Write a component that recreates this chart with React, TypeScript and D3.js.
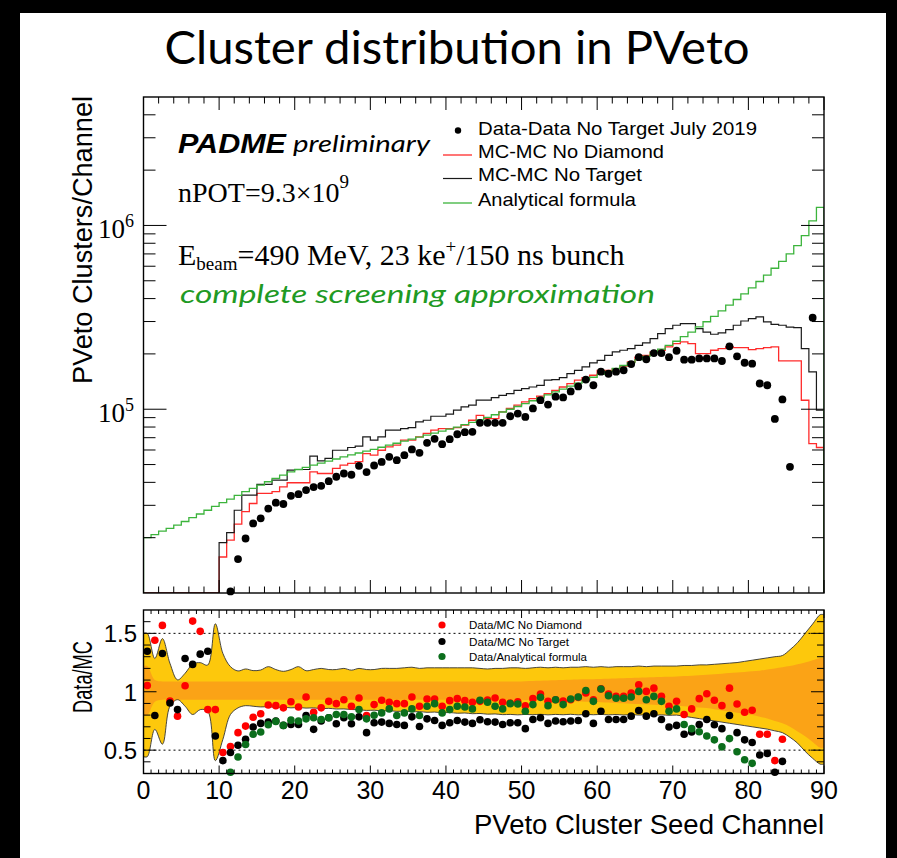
import React from "react";
import * as d3 from "d3";

// PVeto seed channels 0..89
const channels: number[] = d3.range(90);

// Data - Data No Target, July 2019 (clusters per channel; null = below axis range / empty)
const dataCounts: (number | null)[] = [
  null, null, null, null, null, null, null, null, null, null,
  null, 1.02e4, 1.53e4, 1.98e4, 2.39e4, 2.55e4, 2.88e4, 3.10e4, 3.05e4, 3.38e4,
  3.45e4, 3.63e4, 3.77e4, 3.83e4, 4.06e4, 4.29e4, 4.47e4, 4.40e4, 4.92e4, 4.55e4,
  4.94e4, 5.17e4, 5.51e4, 5.28e4, 5.62e4, 6.04e4, 5.79e4, 6.56e4, 6.90e4, 6.45e4,
  6.87e4, 7.31e4, 7.50e4, 7.53e4, 8.43e4, 8.43e4, 8.43e4, 8.43e4, 9.16e4, 9.47e4,
  9.08e4, 1.01e5, 1.12e5, 1.06e5, 1.17e5, 1.16e5, 1.25e5, 1.33e5, 1.45e5, 1.35e5,
  1.60e5, 1.56e5, 1.60e5, 1.63e5, 1.76e5, 1.92e5, 1.87e5, 2.02e5, 2.02e5, 1.92e5,
  2.08e5, 1.86e5, 1.86e5, 1.89e5, 1.89e5, 1.89e5, 1.83e5, 2.20e5, 1.94e5, 1.79e5,
  1.77e5, 1.38e5, 1.35e5, 8.86e4, 1.13e5, 4.86e4, null, null, 3.15e5, null,
];

// MC - MC No Diamond
const mcNoDiamond: number[] = [
  0, 0, 0, 0, 0, 0, 0, 0, 0, 0,
  1.57e4, 1.94e4, 2.37e4, 2.77e4, 3.07e4, 3.48e4, 3.48e4, 3.56e4, 3.78e4, 3.98e4,
  3.98e4, 3.98e4, 4.56e4, 4.47e4, 4.47e4, 4.76e4, 4.97e4, 5.07e4, 5.18e4, 5.74e4,
  5.62e4, 5.98e4, 6.24e4, 6.37e4, 6.79e4, 6.79e4, 7.08e4, 7.38e4, 7.69e4, 7.85e4,
  7.85e4, 7.94e4, 8.19e4, 8.71e4, 9.27e4, 8.89e4, 8.89e4, 9.68e4, 1.009e5, 1.052e5,
  1.096e5, 1.143e5, 1.178e5, 1.216e5, 1.268e5, 1.321e5, 1.377e5, 1.439e5, 1.486e5, 1.531e5,
  1.629e5, 1.629e5, 1.663e5, 1.714e5, 1.807e5, 1.923e5, 1.963e5, 2.051e5, 2.094e5, 2.183e5,
  2.275e5, 2.323e5, 2.275e5, 2.009e5, 2.009e5, 2.094e5, 2.138e5, 2.183e5, 2.163e5, 2.163e5,
  2.109e5, 2.138e5, 2.163e5, 2.183e5, 1.832e5, 1.832e5, 1.832e5, 1.119e5, 6.50e4, 6.19e4,
];

// MC - MC No Target
const mcNoTarget: number[] = [
  0, 0, 0, 0, 0, 0, 0, 0, 0, 0,
  1.88e4, 2.13e4, 2.82e4, 3.41e4, 3.41e4, 3.90e4, 3.90e4, 4.11e4, 4.11e4, 4.66e4,
  4.70e4, 4.70e4, 5.56e4, 5.24e4, 5.40e4, 5.98e4, 5.98e4, 6.19e4, 6.30e4, 7.08e4,
  6.79e4, 7.08e4, 7.69e4, 7.69e4, 7.85e4, 7.94e4, 8.53e4, 8.71e4, 9.16e4, 9.16e4,
  9.40e4, 9.89e4, 1.030e5, 1.052e5, 1.122e5, 1.122e5, 1.156e5, 1.191e5, 1.216e5, 1.268e5,
  1.294e5, 1.321e5, 1.349e5, 1.439e5, 1.449e5, 1.486e5, 1.563e5, 1.629e5, 1.698e5, 1.786e5,
  1.845e5, 1.963e5, 2.051e5, 2.094e5, 2.138e5, 2.228e5, 2.296e5, 2.421e5, 2.576e5, 2.742e5,
  2.864e5, 2.924e5, 2.924e5, 2.742e5, 2.630e5, 2.559e5, 2.600e5, 2.710e5, 2.864e5, 3.020e5,
  3.112e5, 3.177e5, 2.985e5, 2.897e5, 2.864e5, 2.799e5, 2.780e5, 2.138e5, 1.596e5, 9.89e4,
];

// Analytical formula (complete screening approximation)
const analytical: number[] = [
  2.00e4, 2.08e4, 2.17e4, 2.25e4, 2.34e4, 2.45e4, 2.57e4, 2.69e4, 2.82e4, 2.96e4,
  3.10e4, 3.24e4, 3.40e4, 3.56e4, 3.71e4, 3.86e4, 4.03e4, 4.20e4, 4.38e4, 4.56e4,
  4.70e4, 4.83e4, 4.97e4, 5.09e4, 5.22e4, 5.36e4, 5.50e4, 5.64e4, 5.78e4, 5.92e4,
  6.05e4, 6.21e4, 6.37e4, 6.53e4, 6.70e4, 6.87e4, 7.05e4, 7.23e4, 7.41e4, 7.60e4,
  7.80e4, 8.00e4, 8.24e4, 8.49e4, 8.75e4, 9.02e4, 9.33e4, 9.66e4, 1.000e5, 1.035e5,
  1.072e5, 1.112e5, 1.153e5, 1.197e5, 1.242e5, 1.288e5, 1.337e5, 1.387e5, 1.439e5, 1.493e5,
  1.549e5, 1.607e5, 1.667e5, 1.730e5, 1.795e5, 1.862e5, 1.941e5, 2.028e5, 2.123e5, 2.228e5,
  2.344e5, 2.483e5, 2.630e5, 2.805e5, 2.992e5, 3.199e5, 3.428e5, 3.681e5, 3.954e5, 4.246e5,
  4.571e5, 4.955e5, 5.370e5, 5.848e5, 6.383e5, 6.998e5, 7.762e5, 8.810e5, 1.059e6, 1.253e6,
];

// Ratios
const ratioNoDiamond: (number | null)[] = [
  1.054, 1.441, 1.568, 0.92, 0.791, 1.051, 1.605, 1.517, 0.847, 0.847,
  0.480, 0.531, 0.650, 0.706, 0.782, 0.811, 0.887, 0.881, 0.862, 0.915,
  0.870, 0.955, 0.825, 0.862, 0.918, 0.898, 0.932, 0.876, 0.946, 0.797,
  0.890, 0.927, 0.910, 0.898, 0.898, 0.955, 0.876, 0.938, 0.938, 0.876,
  0.924, 0.941, 0.924, 0.910, 0.918, 0.93, 0.946, 0.910, 0.904, 0.915,
  0.88, 0.941, 0.980, 0.918, 0.932, 0.92, 0.932, 0.952, 0.99, 0.932,
  1.025, 0.980, 0.96, 0.960, 0.989, 1.059, 1.003, 1.031, 0.960, 0.876,
  0.918, 0.805, 0.853, 0.941, 0.983, 0.927, 0.881, 1.031, 0.895, 0.825,
  0.842, 0.636, 0.636, 0.410, 0.593, null, null, null, null, null,
];

const ratioNoTarget: (number | null)[] = [
  1.347, 0.797, 1.328, 0.904, 0.847, 1.285, 1.234, 1.322, 1.347, 0.621,
  0.410, 0.480, 0.542, 0.593, 0.698, 0.729, 0.740, 0.749, 0.712, 0.720,
  0.720, 0.797, 0.678, 0.749, 0.777, 0.726, 0.777, 0.726, 0.785, 0.650,
  0.734, 0.740, 0.729, 0.720, 0.712, 0.785, 0.703, 0.768, 0.754, 0.712,
  0.734, 0.754, 0.740, 0.729, 0.76, 0.743, 0.740, 0.720, 0.734, 0.734,
  0.684, 0.763, 0.777, 0.729, 0.749, 0.743, 0.749, 0.754, 0.811, 0.729,
  0.833, 0.763, 0.763, 0.763, 0.791, 0.839, 0.791, 0.811, 0.763, 0.698,
  0.712, 0.636, 0.655, 0.720, 0.763, 0.718, 0.684, 0.797, 0.650, 0.588,
  0.565, 0.458, 0.472, 0.311, 0.404, null, null, null, null, null,
];

const ratioAnalytical: (number | null)[] = [
  null, null, null, null, null, null, null, null, null, null,
  null, 0.311, 0.441, 0.548, 0.636, 0.655, 0.718, 0.746, 0.712, 0.757,
  0.749, 0.768, 0.777, 0.763, 0.777, 0.805, 0.805, 0.785, 0.847, 0.768,
  0.799, 0.819, 0.853, 0.797, 0.819, 0.853, 0.797, 0.876, 0.898, 0.819,
  0.847, 0.876, 0.870, 0.853, 0.927, 0.91, 0.876, 0.853, 0.898, 0.895,
  0.833, 0.890, 0.952, 0.881, 0.932, 0.890, 0.938, 0.955, 1.011, 0.918,
  1.023, 0.966, 0.944, 0.944, 0.955, 1.003, 0.932, 0.960, 0.918, 0.833,
  0.853, 0.720, 0.684, 0.658, 0.621, 0.588, 0.528, 0.599, 0.486, 0.418,
  0.387, null, null, null, null, null, null, null, null, null,
];

// MC uncertainty bands on the ratio (outer / inner)
const bandOuterHi: number[] = [
  1.50, 1.285, 1.455, 1.243, 1.102, 1.158, 1.237, 1.249, 1.229, 1.582,
  1.328, 1.215, 1.178, 1.195, 1.181, 1.186, 1.215, 1.19, 1.175, 1.19,
  1.215, 1.18, 1.19, 1.20, 1.19, 1.19, 1.20, 1.185, 1.20, 1.19,
  1.19, 1.20, 1.20, 1.20, 1.205, 1.21, 1.20, 1.205, 1.205, 1.205,
  1.205, 1.205, 1.205, 1.205, 1.20, 1.195, 1.20, 1.20, 1.205, 1.205,
  1.20, 1.205, 1.21, 1.205, 1.21, 1.205, 1.21, 1.21, 1.215, 1.21,
  1.215, 1.21, 1.215, 1.215, 1.215, 1.22, 1.215, 1.22, 1.22, 1.22,
  1.22, 1.225, 1.225, 1.23, 1.23, 1.235, 1.24, 1.245, 1.25, 1.26,
  1.27, 1.28, 1.29, 1.30, 1.31, 1.36, 1.42, 1.50, 1.58, 1.66,
];
const bandOuterLo: number[] = [
  0.444, 0.678, 0.551, 0.876, 0.932, 0.876, 0.805, 0.847, 0.833, 0.41,
  0.593, 0.805, 0.862, 0.881, 0.876, 0.870, 0.872, 0.866, 0.868, 0.862,
  0.865, 0.86, 0.862, 0.855, 0.858, 0.852, 0.853, 0.848, 0.846, 0.84,
  0.842, 0.836, 0.838, 0.832, 0.834, 0.828, 0.83, 0.824, 0.826, 0.82,
  0.822, 0.816, 0.818, 0.812, 0.814, 0.808, 0.81, 0.804, 0.806, 0.802,
  0.806, 0.803, 0.807, 0.802, 0.806, 0.803, 0.807, 0.802, 0.806, 0.803,
  0.806, 0.802, 0.805, 0.801, 0.804, 0.8, 0.803, 0.799, 0.802, 0.798,
  0.80, 0.79, 0.78, 0.77, 0.76, 0.75, 0.74, 0.73, 0.72, 0.71,
  0.70, 0.69, 0.68, 0.665, 0.65, 0.61, 0.56, 0.49, 0.43, 0.38,
];
const bandInnerHi: number[] = [
  1.22, 1.10, 1.088, 1.088, 1.088, 1.088, 1.088, 1.088, 1.088, 1.088,
  1.088, 1.088, 1.088, 1.088, 1.088, 1.088, 1.088, 1.088, 1.088, 1.088,
  1.088, 1.088, 1.088, 1.088, 1.088, 1.088, 1.088, 1.088, 1.088, 1.088,
  1.088, 1.088, 1.088, 1.088, 1.088, 1.088, 1.088, 1.088, 1.088, 1.088,
  1.088, 1.088, 1.088, 1.088, 1.088, 1.088, 1.088, 1.088, 1.088, 1.088,
  1.09, 1.092, 1.094, 1.096, 1.098, 1.10, 1.102, 1.104, 1.106, 1.108,
  1.11, 1.112, 1.114, 1.116, 1.118, 1.12, 1.122, 1.124, 1.126, 1.128,
  1.13, 1.134, 1.138, 1.142, 1.146, 1.15, 1.155, 1.16, 1.165, 1.17,
  1.175, 1.18, 1.19, 1.20, 1.21, 1.22, 1.235, 1.25, 1.27, 1.29,
];
const bandInnerLo: number[] = [
  0.80, 0.915, 0.932, 0.932, 0.932, 0.932, 0.932, 0.932, 0.932, 0.932,
  0.932, 0.932, 0.932, 0.932, 0.932, 0.932, 0.932, 0.932, 0.932, 0.932,
  0.932, 0.932, 0.932, 0.932, 0.932, 0.932, 0.932, 0.932, 0.932, 0.932,
  0.932, 0.932, 0.932, 0.932, 0.932, 0.932, 0.932, 0.932, 0.932, 0.932,
  0.932, 0.932, 0.932, 0.932, 0.932, 0.932, 0.932, 0.932, 0.932, 0.932,
  0.93, 0.928, 0.926, 0.924, 0.922, 0.92, 0.918, 0.916, 0.914, 0.912,
  0.91, 0.907, 0.904, 0.901, 0.898, 0.895, 0.892, 0.889, 0.886, 0.883,
  0.88, 0.875, 0.87, 0.865, 0.86, 0.85, 0.84, 0.83, 0.82, 0.81,
  0.80, 0.785, 0.77, 0.75, 0.73, 0.70, 0.66, 0.62, 0.57, 0.52,
];

const xTickValues: number[] = [0, 10, 20, 30, 40, 50, 60, 70, 80, 90];
const topMajorY: number[] = [1e5, 1e6];
const ratioTickValues: number[] = [0.5, 1, 1.5];
const ratioTickLabels: string[] = ["0.5", "1", "1.5"];

const SANS = "'Liberation Sans', Arial, Helvetica, sans-serif";
const SERIF = "'Liberation Serif', 'Times New Roman', serif";
const LATO = "Lato, 'Open Sans', sans-serif";

const C_RED = "#ff2b2b";
const C_GREEN_LINE = "#3cb43c";
const C_GREEN_DOT = "#0b6e1c";
const C_YELLOW = "#fdc80c";
const C_ORANGE = "#fba316";

export default function App() {
  const W = 897;
  const H = 858;
  const left = 143.5;
  const right = 824;
  const topY0 = 97;
  const topY1 = 593;
  const rY0 = 610;
  const rY1 = 773.5;

  const x = d3.scaleLinear().domain([0, 90]).range([left, right]);
  const yTop = d3.scaleLog().domain([1e4, 5e6]).range([topY1, topY0]);
  const yR = d3.scaleLinear().domain([0.3, 1.7]).range([rY1, rY0]);

  const yc = (v: number) => (v > 0 ? Math.min(topY1, yTop(v)) : topY1);
  const stepPath = (vals: number[]) => {
    let p = `M${x(0)},${topY1}`;
    vals.forEach((v, i) => {
      p += `V${yc(v)}H${x(i + 1)}`;
    });
    p += `V${topY1}`;
    return p;
  };

  type BandPt = { c: number; hi: number; lo: number };
  const bandPoints = (hi: number[], lo: number[]): BandPt[] => [
    { c: 0, hi: hi[0], lo: lo[0] },
    ...channels.map((c) => ({ c: c + 0.5, hi: hi[c], lo: lo[c] })),
    { c: 90, hi: hi[89], lo: lo[89] },
  ];
  const outer = bandPoints(bandOuterHi, bandOuterLo);
  const inner = bandPoints(bandInnerHi, bandInnerLo);
  const area = d3
    .area<BandPt>()
    .x((d) => x(d.c))
    .y0((d) => yR(d.lo))
    .y1((d) => yR(d.hi))
    .curve(d3.curveCatmullRom.alpha(0.5));
  const hiLine = d3
    .line<BandPt>()
    .x((d) => x(d.c))
    .y((d) => yR(d.hi))
    .curve(d3.curveCatmullRom.alpha(0.5));
  const loLine = d3
    .line<BandPt>()
    .x((d) => x(d.c))
    .y((d) => yR(d.lo))
    .curve(d3.curveCatmullRom.alpha(0.5));

  // tick sets
  const xMinorTop = d3.range(0, 91, 2).filter((v) => v % 10 !== 0);
  const xMinorRatio = d3.range(0, 91, 1).filter((v) => v % 10 !== 0);
  const yMinorTop: number[] = [];
  [1e4, 1e5, 1e6].forEach((dec) => {
    for (let k = 2; k <= 9; k++) {
      const v = k * dec;
      if (v < 5e6) yMinorTop.push(v);
    }
  });
  const yMinorRatio = d3
    .range(4, 17)
    .map((k) => k / 10)
    .filter((v) => Math.abs(v - 0.5) > 1e-6 && Math.abs(v - 1) > 1e-6 && Math.abs(v - 1.5) > 1e-6);

  const dots = (vals: (number | null)[], color: string, r: number, key: string) =>
    vals.map((v, c) =>
      v == null ? null : (
        <circle key={`${key}${c}`} cx={x(c + 0.5)} cy={yR(v)} r={r} fill={color} />
      )
    );

  return (
    <svg width={W} height={H} style={{ display: "block", position: "absolute", left: 0, top: 0 }}>
      <defs>
        <clipPath id="clipTop">
          <rect x={left} y={topY0} width={right - left} height={topY1 - topY0} />
        </clipPath>
        <clipPath id="clipRatio">
          <rect x={left} y={rY0} width={right - left} height={rY1 - rY0} />
        </clipPath>
      </defs>

      {/* slide background */}
      <rect x={0} y={0} width={W} height={H} fill="#000" />
      <rect x={20} y={13} width={866} height={H - 13} fill="#fff" />
      <rect x={8} y={404} width={5} height={7} fill="#000" />

      <text
        x={457}
        y={64}
        textAnchor="middle"
        fontFamily={LATO}
        fontSize={46}
        textLength={585}
        lengthAdjust="spacingAndGlyphs"
        fill="#000"
      >
        Cluster distribution in PVeto
      </text>

      {/* ================= upper panel ================= */}
      <g clipPath="url(#clipTop)">
        <path d={stepPath(mcNoDiamond)} fill="none" stroke={C_RED} strokeWidth={1.3} />
        <path d={stepPath(mcNoTarget)} fill="none" stroke="#1a1a1a" strokeWidth={1.2} />
        <path d={stepPath(analytical)} fill="none" stroke={C_GREEN_LINE} strokeWidth={1.3} />
      </g>
      {dataCounts.map((v, c) =>
        v == null ? null : (
          <circle key={`d${c}`} cx={x(c + 0.5)} cy={yTop(v)} r={3.9} fill="#000" />
        )
      )}

      {/* frame + ticks */}
      <rect x={left} y={topY0} width={right - left} height={topY1 - topY0} fill="none" stroke="#000" strokeWidth={1.4} />
      <g stroke="#000" strokeWidth={1}>
        {xTickValues.map((v) => (
          <g key={`tx${v}`}>
            <line x1={x(v)} x2={x(v)} y1={topY1} y2={topY1 - 13} />
            <line x1={x(v)} x2={x(v)} y1={topY0} y2={topY0 + 13} />
          </g>
        ))}
        {xMinorTop.map((v) => (
          <g key={`txm${v}`}>
            <line x1={x(v)} x2={x(v)} y1={topY1} y2={topY1 - 6.5} />
            <line x1={x(v)} x2={x(v)} y1={topY0} y2={topY0 + 6.5} />
          </g>
        ))}
        {topMajorY.map((v) => (
          <g key={`ty${v}`}>
            <line x1={left} x2={left + 23} y1={yTop(v)} y2={yTop(v)} />
            <line x1={right} x2={right - 23} y1={yTop(v)} y2={yTop(v)} />
          </g>
        ))}
        {yMinorTop.map((v) => (
          <g key={`tym${v}`}>
            <line x1={left} x2={left + 12} y1={yTop(v)} y2={yTop(v)} />
            <line x1={right} x2={right - 12} y1={yTop(v)} y2={yTop(v)} />
          </g>
        ))}
      </g>

      {/* y tick labels 10^5, 10^6 */}
      {topMajorY.map((v) => (
        <g key={`tyl${v}`} fontFamily={SERIF} fill="#000">
          <text x={125} y={yTop(v) + 13} textAnchor="end" fontSize={27}>
            10
          </text>
          <text x={125} y={yTop(v) + 2} textAnchor="start" fontSize={18}>
            {Math.round(Math.log10(v))}
          </text>
        </g>
      ))}

      <text
        transform={`translate(92,96) rotate(-90)`}
        textAnchor="end"
        fontFamily={SANS}
        fontSize={27}
        textLength={288}
        lengthAdjust="spacingAndGlyphs"
        fill="#000"
      >
        PVeto Clusters/Channel
      </text>

      {/* annotations */}
      <text x={178} y={153} fontFamily={SANS} fontWeight="bold" fontStyle="italic" fontSize={27} textLength={108} lengthAdjust="spacingAndGlyphs">
        PADME
      </text>
      <text x={293} y={152} fontFamily={LATO} fontStyle="italic" fontSize={23} textLength={137} lengthAdjust="spacingAndGlyphs">
        preliminary
      </text>
      <text x={178} y={202} fontFamily={SERIF} fontSize={28}>
        nPOT=9.3×10
        <tspan fontSize={19} dy={-14}>
          9
        </tspan>
      </text>
      <text x={178} y={265} fontFamily={SERIF} fontSize={30}>
        E
        <tspan fontSize={19} dy={5}>
          beam
        </tspan>
        <tspan dy={-5}>=490 MeV, 23 ke</tspan>
        <tspan fontSize={19} dy={-12}>
          +
        </tspan>
        <tspan dy={12}>/150 ns bunch</tspan>
      </text>
      <text
        x={180}
        y={303}
        fontFamily={LATO}
        fontStyle="italic"
        fontSize={26}
        fill="#1f9a24"
        textLength={475}
        lengthAdjust="spacingAndGlyphs"
      >
        complete screening approximation
      </text>

      {/* legend */}
      <g fontFamily={SANS} fontSize={19} fill="#000">
        <circle cx={458} cy={130.5} r={3.2} fill="#000" />
        <text x={478} y={134.5} textLength={279} lengthAdjust="spacingAndGlyphs">
          Data-Data No Target July 2019
        </text>
        <line x1={443} x2={472} y1={155} y2={155} stroke={C_RED} strokeWidth={1.3} />
        <text x={478} y={158} textLength={186} lengthAdjust="spacingAndGlyphs">
          MC-MC No Diamond
        </text>
        <line x1={443} x2={472} y1={178.5} y2={178.5} stroke="#1a1a1a" strokeWidth={1.2} />
        <text x={478} y={181} textLength={164} lengthAdjust="spacingAndGlyphs">
          MC-MC No Target
        </text>
        <line x1={443} x2={472} y1={203} y2={203} stroke={C_GREEN_LINE} strokeWidth={1.3} />
        <text x={478} y={206} textLength={158} lengthAdjust="spacingAndGlyphs">
          Analytical formula
        </text>
      </g>

      {/* ================= ratio panel ================= */}
      <g clipPath="url(#clipRatio)">
        <path d={area(outer) || ""} fill={C_YELLOW} />
        <path d={area(inner) || ""} fill={C_ORANGE} />
        <path d={hiLine(outer) || ""} fill="none" stroke="#333" strokeWidth={0.9} />
        <path d={loLine(outer) || ""} fill="none" stroke="#333" strokeWidth={0.9} />
      </g>
      {[0.5, 1.5].map((v) => (
        <line
          key={`dl${v}`}
          x1={left}
          x2={right}
          y1={yR(v)}
          y2={yR(v)}
          stroke="#000"
          strokeWidth={1}
          strokeDasharray="2,3"
        />
      ))}

      {/* ratio legend */}
      <g fontFamily={SANS} fontSize={11.5} fill="#000">
        <circle cx={442} cy={625} r={3.6} fill="#ff0000" />
        <text x={469} y={629} textLength={113} lengthAdjust="spacingAndGlyphs">
          Data/MC No Diamond
        </text>
        <circle cx={442} cy={641.5} r={3.6} fill="#000" />
        <text x={469} y={645.5} textLength={100} lengthAdjust="spacingAndGlyphs">
          Data/MC No Target
        </text>
        <circle cx={442} cy={656.5} r={3.6} fill={C_GREEN_DOT} />
        <text x={469} y={660.5} textLength={118} lengthAdjust="spacingAndGlyphs">
          Data/Analytical formula
        </text>
      </g>

      {dots(ratioNoDiamond, "#ff0000", 3.8, "rd")}
      {dots(ratioNoTarget, "#000", 3.8, "rb")}
      {dots(ratioAnalytical, C_GREEN_DOT, 3.8, "rg")}

      <rect x={left} y={rY0} width={right - left} height={rY1 - rY0} fill="none" stroke="#000" strokeWidth={1.4} />
      <g stroke="#000" strokeWidth={1}>
        {xTickValues.map((v) => (
          <g key={`rx${v}`}>
            <line x1={x(v)} x2={x(v)} y1={rY1} y2={rY1 - 8} />
            <line x1={x(v)} x2={x(v)} y1={rY0} y2={rY0 + 8} />
          </g>
        ))}
        {xMinorRatio.map((v) => (
          <g key={`rxm${v}`}>
            <line x1={x(v)} x2={x(v)} y1={rY1} y2={rY1 - 4} />
            <line x1={x(v)} x2={x(v)} y1={rY0} y2={rY0 + 4} />
          </g>
        ))}
        {ratioTickValues.map((v) => (
          <g key={`ry${v}`}>
            <line x1={left} x2={left + 13} y1={yR(v)} y2={yR(v)} />
            <line x1={right} x2={right - 13} y1={yR(v)} y2={yR(v)} />
          </g>
        ))}
        {yMinorRatio.map((v) => (
          <g key={`rym${v}`}>
            <line x1={left} x2={left + 7} y1={yR(v)} y2={yR(v)} />
            <line x1={right} x2={right - 7} y1={yR(v)} y2={yR(v)} />
          </g>
        ))}
      </g>

      {ratioTickValues.map((v, i) => (
        <text key={`ryl${v}`} x={137} y={yR(v) + 9} textAnchor="end" fontFamily={SANS} fontSize={24} fill="#000">
          {ratioTickLabels[i]}
        </text>
      ))}
      <text
        transform={`translate(92,641) rotate(-90)`}
        textAnchor="end"
        fontFamily={SANS}
        fontSize={27}
        textLength={72}
        lengthAdjust="spacingAndGlyphs"
        fill="#000"
      >
        Data/MC
      </text>

      {xTickValues.map((v) => (
        <text key={`xl${v}`} x={x(v)} y={799} textAnchor="middle" fontFamily={SANS} fontSize={25} fill="#000">
          {v}
        </text>
      ))}
      <text
        x={824}
        y={834}
        textAnchor="end"
        fontFamily={SANS}
        fontSize={27}
        textLength={350}
        lengthAdjust="spacingAndGlyphs"
        fill="#000"
      >
        PVeto Cluster Seed Channel
      </text>
    </svg>
  );
}
